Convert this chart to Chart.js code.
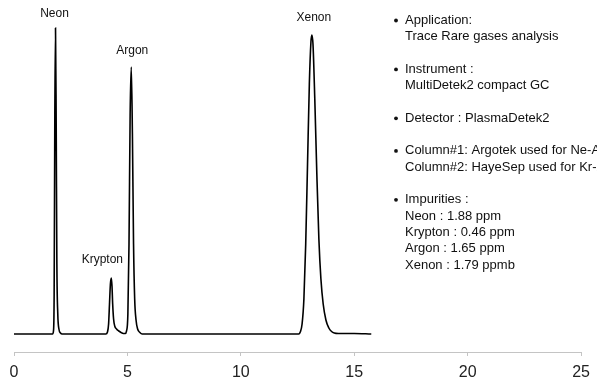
<!DOCTYPE html>
<html>
<head>
<meta charset="utf-8">
<script src="https://cdn.jsdelivr.net/npm/chart.js@4/dist/chart.umd.min.js"></script>
<style>
  html, body { margin: 0; padding: 0; background: #fff; }
  canvas { display: block; }
</style>
</head>
<body>
<canvas id="c" width="597" height="385"></canvas>
<script>
// ---- Data ----
// Retention time (min) and detector signal (arbitrary units) of the trace
const traceTime = [
  0, 1.70, 1.74, 1.77, 1.80, 1.83, 1.86, 1.89, 1.93, 1.98, 2.05, 2.12,
  4.05, 4.12, 4.17, 4.21, 4.25, 4.29, 4.32, 4.35, 4.39, 4.44, 4.52, 4.62, 4.72, 4.82, 4.90,
  4.96, 5.02, 5.07, 5.12, 5.17, 5.22, 5.27, 5.32, 5.38, 5.45, 5.55, 5.65,
  12.55, 12.62, 12.70, 12.78, 12.86, 12.94, 13.02, 13.09, 13.13, 13.18, 13.26, 13.35,
  13.44, 13.53, 13.63, 13.75, 13.88, 14.00, 14.12, 14.30, 15.00, 15.75
];
const traceSignal = [
  0, 0, 3, 40, 220, 306, 210, 70, 20, 5, 1, 0,
  0, 2, 10, 30, 50, 56, 48, 30, 15, 8, 5, 3, 1.5, 0.5, 0.5,
  3, 20, 90, 220, 267, 200, 90, 35, 14, 5, 1.5, 0,
  0, 2, 10, 35, 90, 170, 250, 292, 299, 290, 235, 160,
  95, 55, 30, 14, 6, 2.5, 1, 0.5, 0.5, 0
];
// Peak annotations
const peakNames   = ["Neon", "Krypton", "Argon", "Xenon"];
const peakTimes   = [1.83, 4.29, 5.17, 13.13];
const peakSignals = [306, 56, 267, 299];
// Axis ticks
const xTicks = [0, 5, 10, 15, 20, 25];
// Side information text ("" = blank line between bullets)
const infoItems = [
  ["Application:", "Trace Rare gases analysis"],
  ["Instrument :", "MultiDetek2 compact GC"],
  ["Detector : PlasmaDetek2"],
  ["Column#1: Argotek used for Ne-Ar", "Column#2: HayeSep used for Kr-Xe"],
  ["Impurities :", "Neon : 1.88 ppm", "Krypton : 0.46 ppm", "Argon : 1.65 ppm", "Xenon : 1.79 ppmb"]
];

const points = traceTime.map((t, i) => ({ x: t, y: traceSignal[i] }));

const annotate = {
  id: 'annotate',
  afterDatasetsDraw(chart, args, opts) {
    const ctx = chart.ctx;
    const xs = chart.scales.x, ys = chart.scales.y;
    ctx.save();
    // peak labels
    ctx.fillStyle = '#111';
    ctx.font = "12px 'Liberation Sans Narrow', 'Liberation Sans', sans-serif";
    ctx.textAlign = 'center';
    ctx.textBaseline = 'middle';
    peakNames.forEach((name, i) => {
      const off = opts.labelOffsets[i];
      const px = xs.getPixelForValue(peakTimes[i]) + off[0];
      const py = ys.getPixelForValue(peakSignals[i]) + off[1];
      ctx.fillText(name, px, py);
    });
    // info block: bullets separated by a blank line
    ctx.font = "13px 'Liberation Sans', sans-serif";
    ctx.textAlign = 'left';
    let line = 0;
    infoItems.forEach(item => {
      const y0 = opts.infoTop + line * opts.lineStep;
      ctx.beginPath();
      ctx.arc(opts.bulletX, y0, 1.9, 0, Math.PI * 2);
      ctx.fill();
      item.forEach((txt, j) => {
        ctx.fillText(txt, opts.textX, y0 + j * opts.lineStep);
      });
      line += item.length + 1;
    });
    ctx.restore();
  }
};

new Chart(document.getElementById('c'), {
  type: 'line',
  data: {
    datasets: [{
      data: points,
      borderColor: '#000',
      borderWidth: 1.6,
      pointRadius: 0,
      fill: false,
      cubicInterpolationMode: 'monotone'
    }]
  },
  options: {
    responsive: false,
    animation: false,
    events: [],
    layout: { padding: { left: 14, right: 12, top: 0, bottom: 3 } },
    plugins: {
      legend: { display: false },
      tooltip: { enabled: false },
      annotate: {
        labelOffsets: [[-1, -14], [-9, -18], [1, -16], [2, -17]],
        bulletX: 396, textX: 405, infoTop: 20.5, lineStep: 16.3
      }
    },
    scales: {
      x: {
        type: 'linear',
        min: xTicks[0],
        max: xTicks[xTicks.length - 1],
        afterBuildTicks: (scale) => { scale.ticks = xTicks.map(v => ({ value: v })); },
        afterFit: (scale) => { scale.height = 30; },
        grid: { drawOnChartArea: false, drawTicks: true, tickLength: 4, color: '#c4c4c4' },
        border: { display: true, color: '#c4c4c4', width: 1 },
        ticks: { padding: 7, color: '#222', font: { family: "'Liberation Sans', sans-serif", size: 16 }, maxRotation: 0 }
      },
      y: {
        display: false,
        min: -18,
        max: 334
      }
    }
  },
  plugins: [annotate]
});
</script>
</body>
</html>
